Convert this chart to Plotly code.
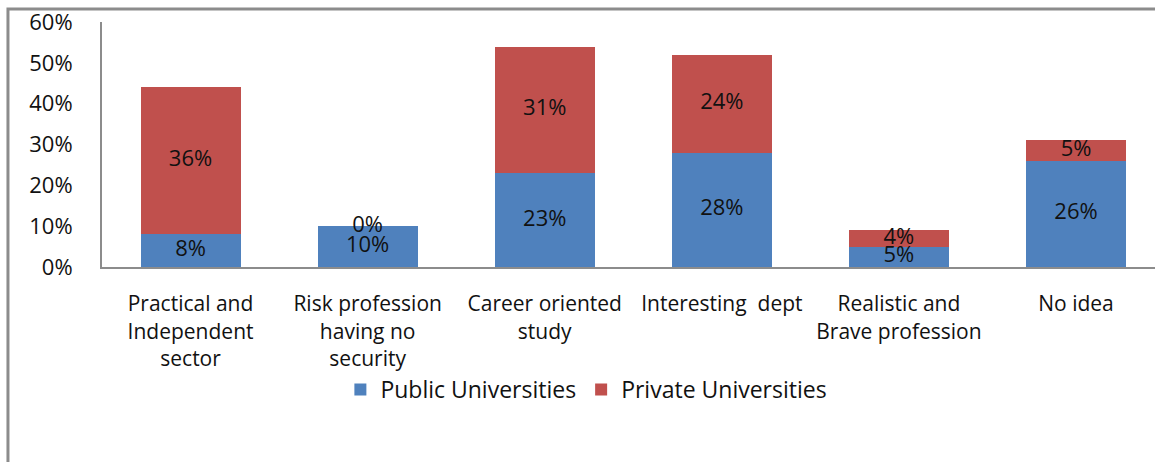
import plotly.graph_objects as go

categories = [
    "Practical and<br>Independent<br>sector",
    "Risk profession<br>having no<br>security",
    "Career oriented<br>study",
    "Interesting\u00a0 dept",
    "Realistic and<br>Brave profession",
    "No idea",
]
public_values = [8, 10, 23, 28, 5, 26]
private_values = [36, 0, 31, 24, 4, 5]

BLUE = "#4F81BD"
RED = "#C0504D"
FONT = "Open Sans"

fig = go.Figure()
fig.add_bar(x=categories, y=public_values, name="Public Universities",
            marker=dict(color=BLUE, line=dict(width=0)))
fig.add_bar(x=categories, y=private_values, name="Private Universities",
            marker=dict(color=RED, line=dict(width=0)))

# value labels centred in each segment
pub_mid = [v / 2 for v in public_values]
priv_mid = [p + v / 2 for p, v in zip(public_values, private_values)]
fig.add_scatter(x=categories, y=pub_mid, mode="text",
                text=[f"{v}%" for v in public_values],
                textfont=dict(family=FONT, size=22, color="#111"),
                showlegend=False, hoverinfo="skip")
fig.add_scatter(x=categories, y=priv_mid, mode="text",
                text=[f"{v}%" for v in private_values],
                textfont=dict(family=FONT, size=22, color="#111"),
                showlegend=False, hoverinfo="skip")

fig.update_layout(
    width=1155, height=462,
    barmode="stack", bargap=0.435,
    plot_bgcolor="white", paper_bgcolor="white",
    margin=dict(l=102, r=0, t=22, b=195),
    font=dict(family=FONT, size=21, color="#111"),
    legend=dict(orientation="h", x=0.46, xanchor="center", y=-0.5,
                yanchor="middle", font=dict(size=23), itemwidth=30,
                bgcolor="rgba(0,0,0,0)", traceorder="normal"),
    shapes=[dict(type="rect", xref="paper", yref="paper",
                 x0=-0.0893, x1=1.2, y0=1.053, y1=-1.2,
                 line=dict(color="#8c8c8c", width=3))],
)
fig.update_yaxes(range=[0, 60], dtick=10, ticksuffix="%", showgrid=False,
                 zeroline=False, showline=True, linecolor="#8c8c8c", linewidth=2,
                 ticks="", ticklabelstandoff=23, tickfont=dict(size=22))
fig.update_xaxes(range=[-0.5, 5.446], showgrid=False, showline=True,
                 linecolor="#8c8c8c", linewidth=2,
                 ticks="", ticklabelstandoff=17, tickfont=dict(size=21))

fig.write_html("out.html")
